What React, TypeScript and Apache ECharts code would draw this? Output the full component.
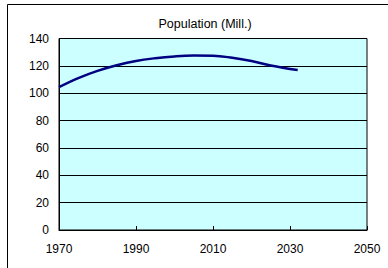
import React, { useEffect, useRef } from "react";
import * as echarts from "echarts";

const years = [1970, 1975, 1980, 1985, 1990, 1995, 2000, 2005, 2010, 2015, 2020, 2025, 2032];
const population = [104.4, 111.0, 116.3, 120.4, 123.6, 125.6, 126.9, 127.5, 127.4, 125.9, 123.5, 120.3, 116.9];
const titleText = "Population (Mill.)";

export default function App() {
  const ref = useRef<HTMLDivElement>(null);
  useEffect(() => {
    if (!ref.current) return;
    const chart = echarts.init(ref.current, undefined, { renderer: "svg" });
    const font = "Liberation Sans, Arial, sans-serif";
    chart.setOption({
      animation: false,
      backgroundColor: "#ffffff",
      title: {
        text: titleText,
        left: 200,
        top: 12,
        textAlign: "center",
        textStyle: { fontFamily: font, fontSize: 12.5, fontWeight: "normal", color: "#000" },
      },
      graphic: [
        {
          type: "rect",
          shape: { x: 7.5, y: 4.5, width: 420, height: 300 },
          style: { fill: "none", stroke: "#000", lineWidth: 1 },
          silent: true,
        },
      ],
      grid: {
        left: 59,
        top: 38.5,
        right: 21,
        bottom: 38,
        show: true,
        backgroundColor: "#ccffff",
        borderColor: "#000",
        borderWidth: 1,
      },
      xAxis: {
        type: "value",
        min: 1970,
        max: 2050,
        interval: 20,
        axisLine: { show: true, lineStyle: { color: "#000", width: 1 } },
        axisTick: { show: true, inside: true, length: 4, lineStyle: { color: "#000" } },
        splitLine: { show: false },
        axisLabel: {
          fontFamily: font,
          fontSize: 12,
          color: "#000",
          margin: 13,
          formatter: (v: number) => String(v),
        },
      },
      yAxis: {
        type: "value",
        min: 0,
        max: 140,
        interval: 20,
        axisLine: { show: true, lineStyle: { color: "#000", width: 1 } },
        axisTick: { show: false },
        splitLine: { show: true, lineStyle: { color: "#000", width: 1 } },
        axisLabel: { fontFamily: font, fontSize: 12, color: "#000", margin: 10 },
      },
      series: [
        {
          type: "line",
          data: years.map((y, i) => [y, population[i]]),
          smooth: 0.4,
          showSymbol: false,
          lineStyle: { color: "#000080", width: 2.5 },
        },
      ],
    });
    return () => chart.dispose();
  }, []);
  return (
    <div
      ref={ref}
      style={{ position: "fixed", left: 0, top: 0, width: 388, height: 268 }}
    />
  );
}
